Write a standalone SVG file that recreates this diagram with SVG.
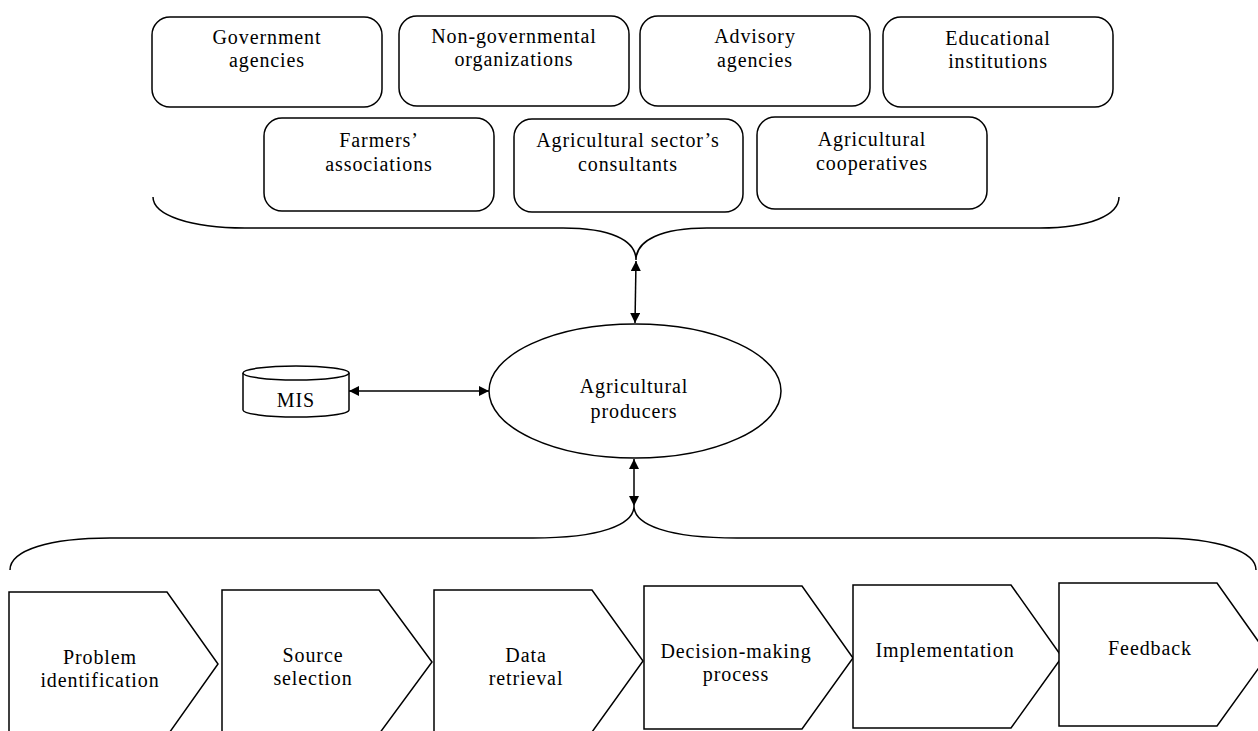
<svg xmlns="http://www.w3.org/2000/svg" width="1258" height="731" viewBox="0 0 1258 731">
<style>
.box{fill:#fff;stroke:#000;stroke-width:1.5}
.ln{fill:none;stroke:#000;stroke-width:1.5}
text{font-family:"Liberation Serif","Times New Roman",serif;font-size:20px;fill:#000;text-anchor:middle;letter-spacing:0.9px}
</style>
<defs>
<marker id="ah" viewBox="0 0 10 10" refX="10" refY="5" markerWidth="10" markerHeight="10" markerUnits="userSpaceOnUse" orient="auto-start-reverse">
<path d="M0,0 L10,5 L0,10 Z" fill="#000"/>
</marker>
</defs>
<rect width="1258" height="731" fill="#fff"/>
<g id="gov"><rect class="box" x="152" y="17" width="230" height="90" rx="18"/><text x="267" y="44">Government</text><text x="267" y="67">agencies</text></g>
<g id="ngo"><rect class="box" x="399" y="16" width="230" height="90" rx="18"/><text x="514" y="43">Non-governmental</text><text x="514" y="66">organizations</text></g>
<g id="advisory"><rect class="box" x="640" y="16" width="230" height="90" rx="18"/><text x="755" y="43">Advisory</text><text x="755" y="67">agencies</text></g>
<g id="edu"><rect class="box" x="883" y="17" width="230" height="90" rx="18"/><text x="998" y="45">Educational</text><text x="998" y="68">institutions</text></g>
<g id="farmers"><rect class="box" x="264" y="118" width="230" height="93" rx="18"/><text x="379" y="147">Farmers’</text><text x="379" y="171">associations</text></g>
<g id="consultants"><rect class="box" x="514" y="119" width="229" height="93" rx="18"/><text x="628" y="147">Agricultural sector’s</text><text x="628" y="171">consultants</text></g>
<g id="coops"><rect class="box" x="757" y="117" width="230" height="92" rx="18"/><text x="872" y="146">Agricultural</text><text x="872" y="170">cooperatives</text></g>
<g id="braces">
<path class="ln" d="M153,197 C153,215 190,228 245,228 L563,228 C610,228 636,240 636,260 C636,240 662,228 707,228 L1040,228 C1090,228 1119,215 1119,197"/>
<path class="ln" d="M10,570 C10,550 50,538 110,538 L533,538 C600,538 634,525 634,506 C634,525 668,538 737,538 L1157,538 C1220,538 1256,552 1256,570"/>
</g>
<g id="producers"><ellipse class="box" cx="635" cy="391" rx="146" ry="67"/><text x="634" y="393">Agricultural</text><text x="634" y="418">producers</text></g>
<g id="mis">
<path class="box" d="M243,373 L243,410 A53,7 0 0 0 349,410 L349,373"/>
<ellipse class="box" cx="296" cy="373" rx="53" ry="7"/>
<text x="296" y="407">MIS</text>
</g>
<g id="connectors">
<line class="ln" x1="636" y1="261" x2="635" y2="323" marker-start="url(#ah)" marker-end="url(#ah)"/>
<line class="ln" x1="349" y1="391" x2="489" y2="391" marker-start="url(#ah)" marker-end="url(#ah)"/>
<line class="ln" x1="634" y1="459" x2="634" y2="506" marker-start="url(#ah)" marker-end="url(#ah)"/>
</g>
<g id="step1"><polygon class="box" points="9,592 167,592 218,664 167,736 9,736"/><text x="100" y="664">Problem</text><text x="100" y="687">identification</text></g>
<g id="step2"><polygon class="box" points="222,590 379,590 432,662 379,734 222,734"/><text x="313" y="662">Source</text><text x="313" y="685">selection</text></g>
<g id="step3"><polygon class="box" points="434,590 592,590 643,661 592,732 434,732"/><text x="526" y="662">Data</text><text x="526" y="685">retrieval</text></g>
<g id="step4"><polygon class="box" points="644,586 802,586 853,658 802,729 644,729"/><text x="736" y="658">Decision-making</text><text x="736" y="681">process</text></g>
<g id="step5"><polygon class="box" points="853,585 1011,585 1062,657 1011,728 853,728"/><text x="945" y="657">Implementation</text></g>
<g id="step6"><polygon class="box" points="1059,583 1217,583 1268,655 1217,726 1059,726"/><text x="1150" y="655">Feedback</text></g>
</svg>
